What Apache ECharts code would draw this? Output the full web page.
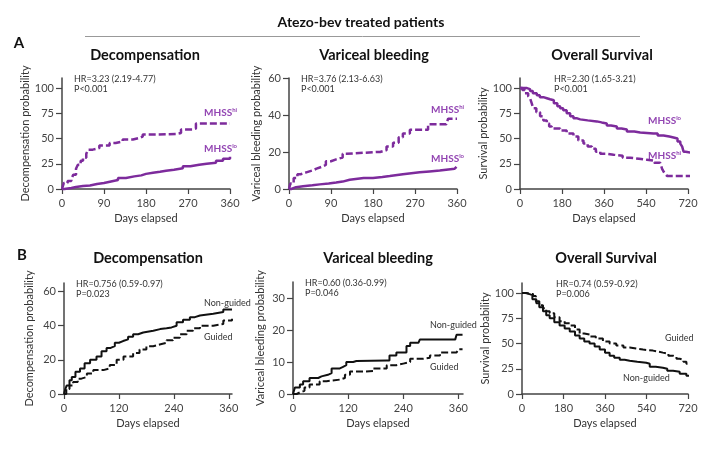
<!DOCTYPE html>
<html>
<head>
<meta charset="utf-8">
<script src="https://cdn.jsdelivr.net/npm/echarts@6/dist/echarts.min.js"></script>
<style>
html, body { margin: 0; padding: 0; background: #fff; }
#container1 { width: 720px; height: 452px; }
</style>
</head>
<body>
<div id="container1"></div>
<script>
// Kaplan-Meier curves, [day, percent]
var decompHi = [[0,0],[4,6],[12,8],[20,10],[24,14],[30,20],[34,24],[40,28],[45,31],[52,35],[56,39],[66,40.5],[80,43],[102,45.5],[115,47],[130,49],[152,50.5],[165,52],[173,54],[202,54.5],[244,55.5],[255,59],[280,60],[287,65],[360,65]];
var decompLo = [[0,0],[5,1],[20,2],[30,3],[45,3.5],[60,5],[75,6],[90,7.5],[105,9],[120,11],[137,12.5],[155,13.5],[170,15],[180,16],[195,17],[210,18],[223,19],[240,20.5],[259,22.5],[275,24],[294,25],[310,26],[330,28],[345,30],[360,32]];
var bleedHi = [[0,0],[3,3],[10,6],[18,8],[25,9],[37,10],[50,11],[59,12],[70,13],[79,15],[90,16],[101,17],[115,19],[123,20],[187,20],[195,21],[209,23],[223,25],[235,28],[244,30],[259,32],[291,32],[298,35],[337,35],[341,38],[360,38]];
var bleedLo = [[0,0],[5,1],[15,1.5],[30,2],[50,2.5],[66,3],[85,3.5],[101,4],[115,5],[130,6],[160,6],[180,6.5],[200,7],[216,8],[244,9],[280,9.5],[301,10],[323,11],[355,11],[359,12]];
var osLo = [[0,100],[20,100],[30,99],[43,97],[55,95],[72,93],[85,91],[100,90],[115,89],[129,88],[145,85],[160,82],[172,80],[185,78],[200,75],[215,72],[229,70],[245,69],[258,68],[290,67],[329,66],[350,65],[372,63],[390,62],[415,60],[435,59],[458,57],[490,56],[515,55],[572,55],[590,53],[615,52],[640,51],[658,50],[675,47],[687,45],[695,42],[701,37],[710,36],[733,35]];
var osHi = [[0,100],[10,98],[21,95],[35,92],[43,90],[50,85],[57,80],[70,76],[86,72],[100,68],[115,65],[125,62],[136,60],[172,58],[200,55],[229,52],[250,48],[272,45],[290,42],[308,40],[325,37],[344,35],[370,34],[401,33],[440,31],[472,30],[510,29],[544,28],[575,26],[601,25],[609,20],[616,17],[623,15],[630,13],[737,13]];

var decompNonGuided = [[0,0],[3,3],[6,5],[12,8],[17,10],[25,13],[35,15],[45,18],[57,20],[71,22],[82,25],[93,27],[102,28],[111,30],[120,31],[129,32],[140,33.5],[151,35],[162,36],[173,37],[195,38],[210,38.5],[224,39],[235,40],[246,42],[260,43.5],[275,45],[286,46],[297,47],[326,48],[348,49.5],[367,49.5]];
var decompGuided = [[0,0],[5,3],[12,5],[20,7],[30,9],[38,10],[50,12],[64,14],[86,15],[100,17],[115,20],[130,22],[151,24],[165,26],[180,28],[195,29],[209,30],[224,31.5],[238,33],[253,35],[268,37],[282,38.5],[297,40],[326,41],[348,43],[367,44]];
var bleedNonGuided = [[0,0],[4,2],[15,3],[22,4],[36,5],[55,5.5],[62,6],[76,6.5],[84,8],[102,8.5],[109,9],[116,10],[131,10.3],[138,10.5],[204,10.5],[210,12],[225,13],[240,13],[247,15],[255,16],[273,16],[276,17],[353,17],[356,18.5],[369,18.5]];
var bleedGuided = [[0,0],[8,0.5],[15,1],[25,2],[36,3],[58,4],[73,4.5],[102,5],[113,6],[124,7],[153,7.2],[175,8],[204,9],[225,9.5],[240,10],[255,11],[284,11.3],[298,12],[320,13],[356,13],[360,14],[369,14]];
var osNonGuided = [[0,100],[15,99],[33,98],[45,94],[62,90],[75,86],[91,82],[105,78],[120,75],[140,71],[163,68],[185,65],[207,62],[230,58],[250,55],[270,52],[293,50],[315,47],[337,44],[360,41],[380,38],[400,36],[424,34],[445,33],[467,32],[500,31],[539,30],[554,27],[580,26],[611,25],[630,23],[655,22],[684,20],[713,18],[737,17]];
var osGuided = [[0,100],[20,99],[48,97],[60,92],[75,88],[91,85],[105,82],[120,80],[140,76],[163,72],[185,70],[207,68],[230,64],[250,60],[270,59],[293,57],[320,55],[351,52],[380,50],[409,48],[440,46],[467,45],[495,44],[525,43],[568,42],[590,41],[611,40],[635,38],[655,37],[670,35],[684,34],[700,32],[713,30],[737,27]];

var ticks360 = [0,90,180,270,360];
var ticks720 = [0,180,360,540,720];
var ticks360b = [0,120,240,360];
var ticks100 = [0,25,50,75,100];
var ticks60 = [0,20,40,60];
var ticks30 = [0,10,20,30];

var panelTitles = ['Decompensation','Variceal bleeding','Overall Survival','Decompensation','Variceal bleeding','Overall Survival'];
var yNames = ['Decompensation probability','Variceal bleeding probability','Survival probability','Decompensation probability','Variceal bleeding probability','Survival probability'];
var hrText = ['HR=3.23 (2.19-4.77)\nP<0.001','HR=3.76 (2.13-6.63)\nP<0.001','HR=2.30 (1.65-3.21)\nP<0.001','HR=0.756 (0.59-0.97)\nP=0.023','HR=0.60 (0.36-0.99)\nP=0.046','HR=0.74 (0.59-0.92)\nP=0.006'];

var FONT = 'Lato, "Noto Sans", sans-serif';
var PURPLE = '#7d2b9c';
var LABELPURPLE = '#9346b3';

// panel layout: grid box, axis ranges, ticks
var panels = [
    {left:62, top:78, width:168, height:111, xMax:360, yMax:110, xTicks:ticks360, yTicks:ticks100, gap:29, tx:145, ty:55},
    {left:289, top:78, width:168, height:111, xMax:360, yMax:60, xTicks:ticks360, yTicks:ticks60, gap:27, tx:374, ty:55},
    {left:520, top:78, width:168, height:111, xMax:720, yMax:110, xTicks:ticks720, yTicks:ticks100, gap:28, tx:602, ty:55},
    {left:64, top:283, width:168, height:111, xMax:367, yMax:65, xTicks:ticks360b, yTicks:ticks60, gap:29, tx:148, ty:258},
    {left:293, top:282, width:170, height:112, xMax:370, yMax:35, xTicks:ticks360b, yTicks:ticks30, gap:27, tx:378, ty:258},
    {left:522, top:283, width:166, height:111, xMax:720, yMax:110, xTicks:ticks720, yTicks:ticks100, gap:29, tx:606, ty:258}
];

var grids = [], xAxes = [], yAxes = [], graphics = [];
panels.forEach(function(p, i){
    grids.push({left:p.left, top:p.top, width:p.width, height:p.height, containLabel:false});
    xAxes.push({
        type:'value', gridIndex:i, min:0, max:p.xMax, interval:p.xTicks[1],
        name:'Days elapsed', nameLocation:'middle', nameGap:24,
        nameTextStyle:{fontFamily:FONT, fontSize:11, color:'#333'},
        axisLine:{lineStyle:{color:'#444', width:1.5}},
        axisTick:{show:true, length:5, lineStyle:{color:'#444', width:1.2}, customValues:p.xTicks},
        axisLabel:{fontFamily:FONT, fontSize:11, color:'#444', margin:9, customValues:p.xTicks},
        splitLine:{show:false}
    });
    yAxes.push({
        type:'value', gridIndex:i, min:0, max:p.yMax, interval:p.yTicks[1],
        name:yNames[i], nameLocation:'middle', nameGap:p.gap, nameRotate:90,
        nameTextStyle:{fontFamily:FONT, fontSize:11, color:'#333'},
        axisLine:{show:true, lineStyle:{color:'#444', width:1.5}},
        axisTick:{show:true, length:6, lineStyle:{color:'#444', width:1.2}, customValues:p.yTicks},
        axisLabel:{fontFamily:FONT, fontSize:11, color:'#444', margin:8, customValues:p.yTicks},
        splitLine:{show:false}
    });
    graphics.push({type:'text', x:p.tx, y:p.ty, style:{text:panelTitles[i], font:'bold 14.5px ' + FONT, fill:'#111', textAlign:'center', textVerticalAlign:'middle'}});
    graphics.push({type:'text', x:p.left + (i%3===2 ? 34 : 12), y:p.top - 4, style:{text:hrText[i], font:'9px ' + FONT, fill:'#333', lineHeight:10}});
});

function mhss(sup, x, y){
    return {type:'text', x:x, y:y, style:{
        text:'{a|MHSS}{s|' + sup + '}',
        rich:{a:{fontFamily:FONT, fontSize:10, fontWeight:'bold', fill:LABELPURPLE},
              s:{fontFamily:FONT, fontSize:6, fontWeight:'bold', fill:LABELPURPLE, padding:[0,0,6,0]}}
    }};
}
function note(txt, x, y){
    return {type:'text', x:x, y:y, style:{text:txt, font:'9px ' + FONT, fill:'#333'}};
}

graphics.push(
    {type:'text', x:361, y:22, style:{text:'Atezo-bev treated patients', font:'bold 14px ' + FONT, fill:'#111', textAlign:'center', textVerticalAlign:'middle'}},
    {type:'line', shape:{x1:85, y1:36.5, x2:640, y2:36.5}, style:{stroke:'#999', lineWidth:1}},
    {type:'text', x:19, y:43, style:{text:'A', font:'bold 15px ' + FONT, fill:'#111', textAlign:'center', textVerticalAlign:'middle'}},
    {type:'text', x:22, y:255, style:{text:'B', font:'bold 15px ' + FONT, fill:'#111', textAlign:'center', textVerticalAlign:'middle'}},
    mhss('hi', 204, 107), mhss('lo', 204, 143),
    mhss('hi', 431, 104), mhss('lo', 431, 153),
    mhss('lo', 648, 115), mhss('hi', 648, 150),
    note('Non-guided', 204, 299), note('Guided', 204, 333),
    note('Non-guided', 430, 321), note('Guided', 430, 363),
    note('Guided', 665, 334), note('Non-guided', 623, 374)
);

function km(data, idx, color, dashed, width){
    return {
        type:'line', data:data, xAxisIndex:idx, yAxisIndex:idx,
        step:'end', showSymbol:false, symbol:'none', clip:false,
        lineStyle:{color:color, width:width, type:dashed ? [7,3] : 'solid'}
    };
}

var myChart1 = echarts.init(document.getElementById('container1'));
var option1 = {
    animation:false,
    backgroundColor:'#fff',
    textStyle:{fontFamily:FONT},
    grid:grids, xAxis:xAxes, yAxis:yAxes,
    graphic:graphics,
    series:[
        km(decompHi, 0, PURPLE, true, 2.5),
        km(decompLo, 0, PURPLE, false, 2.5),
        km(bleedHi, 1, PURPLE, true, 2.5),
        km(bleedLo, 1, PURPLE, false, 2.5),
        km(osHi, 2, PURPLE, true, 2.5),
        km(osLo, 2, PURPLE, false, 2.5),
        km(decompNonGuided, 3, '#111', false, 2),
        km(decompGuided, 3, '#111', true, 2),
        km(bleedNonGuided, 4, '#111', false, 2),
        km(bleedGuided, 4, '#111', true, 2),
        km(osNonGuided, 5, '#111', false, 2),
        km(osGuided, 5, '#111', true, 2)
    ]
};
myChart1.setOption(option1);
</script>
</body>
</html>
